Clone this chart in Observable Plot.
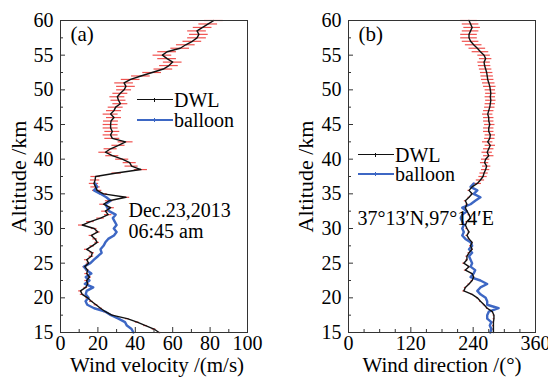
<!DOCTYPE html>
<html><head><meta charset="utf-8">
<script src="https://cdn.jsdelivr.net/npm/d3@7"></script>
<script src="https://cdn.jsdelivr.net/npm/@observablehq/plot@0.6"></script>
<style>
body{margin:0;background:#fff;}
#wrap{position:relative;width:548px;height:377px;overflow:hidden;font-family:"Liberation Serif";}
.panel{position:absolute;top:0;}
.lg{position:absolute;font-size:20px;line-height:18px;color:#000;white-space:nowrap;font-family:"Liberation Serif";}
</style></head>
<body><div id="wrap"></div>
<script>
// Altitude grid (km)
const altDWL = [15,15.5,16,16.5,17,17.5,18,18.5,19,19.5,20,20.5,21,21.5,22,22.5,23,23.5,24,24.5,25,25.5,26,26.5,27,27.5,28,28.5,29,29.5,30,30.5,31,31.5,32,32.5,33,33.5,34,34.5,35,35.5,36,36.5,37,37.5,38,38.5,39,39.5,40,40.5,41,41.5,42,42.5,43,43.5,44,44.5,45,45.5,46,46.5,47,47.5,48,48.5,49,49.5,50,50.5,51,51.5,52,52.5,53,53.5,54,54.5,55,55.5,56,56.5,57,57.5,58,58.5,59,59.5,60];
const altBalloon = [15,15.5,16,16.5,17,17.5,18,18.5,19,19.5,20,20.5,21,21.5,22,22.5,23,23.5,24,24.5,25,25.5,26,26.5,27,27.5,28,28.5,29,29.5,30,30.5,31,31.5,32,32.5,33,33.5,34,34.5,35,35.5,36,36.5];

// (a) wind velocity m/s
const velDWL = [52.7,50,45.5,41,35.7,27.5,24,21.4,19,16.5,14.5,11.6,10.7,13.5,14.5,14,15.5,14,14.5,13,15,14,16.5,17,14,17,19.6,18.5,16.5,20,18,11.6,16,21.4,25.5,24,26.8,23,26,35,23,19.6,18.75,17.9,18.5,18.75,30,43,38,37,33,27.7,24,26.8,31,34.8,27.7,26.8,27.7,26.8,26.8,27,28.6,26.8,28.6,29.5,32,31,30.4,32,34,35,34,37.5,43,49,55,58,60,57,54.5,57,64,67,70.5,73,74,73,76,79,82];
const velErr = [1,1,1,1,1,1,1,1,1,1,1,1,1,1,1,1,1,1,1,1,1.2,1.2,1.2,1.2,1.2,1.2,1.2,1.2,1.2,1.2,1.5,2,2,2,2,2,2,2,2,2,2,2.5,2.5,2.5,2.5,2.5,2.5,3.5,3.5,3.5,3.5,3.5,3.5,3.5,3.5,4,4,4,4,4,4,4,4,4,4,4,4,4,4,4,4,5,5,5,5,5,5,5,5,5,5,5,5,5,5,5,5,5,5,5,5];
const velBalloon = [39,38,35.5,34.5,31,27,24,18,14.3,13.4,15,13.5,14,17.5,13,15.5,13.5,16.5,14,12.5,16,17.9,20,22,21.4,23,24,25.5,28.6,30,28.5,30,29,28,29.5,26,25,24,26.8,24.5,21.4,17.9,19.6,18.5];

// (b) wind direction degrees
const dirDWL = [279,279,279,279,280,280,277,267,261,254,248,238,222,225,232,238,241,238,225,232,222,228,228,232,238,235,238,232,228,232,228,225,228,235,232,228,225,228,225,232,238,232,238,248,254,259,261,264,266,262,264,270,267,270,273,268,272,273,270,270,272,270,270,268,270,272,273,274,273,274,273,272,270,268,267,266,264,262,261,264,261,254,248,241,235,232,232,235,238,235,232];
const dirErr = [1.5,1.5,1.5,1.5,1.5,1.5,1.5,1.5,1.5,1.5,1.5,2,2,2,2,2,2,2,2,2,2,2,2,2,2,2,2,2,2,2,2,2,2,2,2,2,2,2,2,2,2,2,2,8,8,8,8,8,8,8,8,10,10,10,10,10,10,10,10,10,10,10,10,10,10,10,10,10,10,10,10,12,12,12,12,12,12,12,12,12,12,16,16,16,16,16,16,16,16,16,16];
const dirBalloon = [273,275,272,275,267,267,270,289,267,267,264,254,248,254,267,254,235,241,244,235,238,235,232,238,232,238,235,225,219,222,219,222,219,216,219,228,219,235,244,254,241,248,235,241];

const yTicks = [15,20,25,30,35,40,45,50,55,60];
const yMinor = [17.5,22.5,27.5,32.5,37.5,42.5,47.5,52.5,57.5];
const velTicks = [0,20,40,60,80,100];
const velMinor = [10,30,50,70,90];
const dirTicks = [0,120,240,360];
const dirMinor = [30,60,90,150,180,210,270,300,330];

const FONT = "Liberation Serif";
const RED = "#f0524f", BLUE = "#3d67c4";

function panel(o){
  const dwl = o.alt.map((a,i)=>({alt:a, v:o.dwl[i], e:o.err[i]}));
  const bal = o.altB.map((a,i)=>({alt:a, v:o.bal[i]}));
  return Plot.plot({
    width: 274, height: 377,
    marginLeft: o.ml, marginRight: o.mr, marginTop: 20, marginBottom: 45,
    style: {fontFamily: FONT, background: "#fff", overflow: "visible"},
    x: {domain: o.xdom},
    y: {domain: [15,60]},
    marks: [
      Plot.ruleY(dwl, {y:"alt", x1:d=>d.v-d.e, x2:d=>d.v+d.e, stroke:RED, strokeWidth:1.2}),
      Plot.line(bal, {x:"v", y:"alt", stroke:BLUE, strokeWidth:2.4}),
      Plot.line(dwl, {x:"v", y:"alt", stroke:"#111", strokeWidth:1.4}),
      Plot.frame({stroke:"#333", strokeWidth:1}),
      Plot.axisY({ticks:yTicks, tickSize:-5, tickPadding:12, fontSize:20, label:null, stroke:"#333"}),
      Plot.axisY({ticks:yMinor, tickSize:-3, text:null, label:null, stroke:"#333"}),
      Plot.axisX({ticks:o.xt, tickSize:-5, tickPadding:8, fontSize:20, label:null, stroke:"#333"}),
      Plot.axisX({ticks:o.xm, tickSize:-3, text:null, label:null, stroke:"#333"}),
      Plot.text([o.ylab], {frameAnchor:"left", rotate:-90, textAnchor:"middle", lineAnchor:"middle", dx:o.ylx, fontSize:22, fill:"#000"}),
      Plot.text([o.xlab], {frameAnchor:"bottom", textAnchor:"middle", lineAnchor:"middle", dy:33, dx:o.xlx, fontSize:21, fill:"#000"}),
      Plot.text([o.tag], {frameAnchor:"top-left", textAnchor:"start", lineAnchor:"middle", dx:10, dy:14, fontSize:21, fill:"#000"}),
      ...o.notes.map(n => Plot.text([n.t], {frameAnchor:"top-left", textAnchor:"start", lineAnchor:"middle", dx:n.dx, dy:n.dy, fontSize:n.fs, fill:"#000"}))
    ]
  });
}

const wrap = document.getElementById("wrap");
const pa = panel({alt:altDWL, dwl:velDWL, err:velErr, altB:altBalloon, bal:velBalloon,
  ml:60, mr:27, xdom:[0,100], xt:velTicks, xm:velMinor,
  ylab:"Altitude /km", ylx:-42, xlab:"Wind velocity /(m/s)", xlx:3, tag:"(a)",
  notes:[{t:"Dec.23,2013", dx:68, dy:190, fs:20},{t:"06:45 am", dx:68, dy:211, fs:20}]});
const pb = panel({alt:altDWL, dwl:dirDWL, err:dirErr, altB:altBalloon, bal:dirBalloon,
  ml:74, mr:13, xdom:[0,360], xt:dirTicks, xm:dirMinor,
  ylab:"Altitude /km", ylx:-43, xlab:"Wind direction /(°)", xlx:0, tag:"(b)",
  notes:[{t:"37°13′N,97°14′E", dx:9, dy:198, fs:20}]});
const da = document.createElement("div"); da.className="panel"; da.style.left="0px"; da.appendChild(pa);
const db = document.createElement("div"); db.className="panel"; db.style.left="274px"; db.appendChild(pb);
wrap.appendChild(da); wrap.appendChild(db);

// legends
function legend(x, y, gap, items){
  items.forEach((it,i)=>{
    const yy = y + i*gap;
    const l = document.createElement("div");
    l.style.cssText = `position:absolute;left:${x}px;top:${yy-1}px;width:36px;height:0;border-top:${it.w}px solid ${it.c};`;
    wrap.appendChild(l);
    const m = document.createElement("div");
    m.style.cssText = `position:absolute;left:${x+17}px;top:${yy-2.5}px;width:1px;height:4px;background:${it.c};`;
    wrap.appendChild(m);
    const t = document.createElement("div"); t.className="lg";
    t.style.left = (x+37)+"px"; t.style.top = (yy-9)+"px"; t.textContent = it.t;
    wrap.appendChild(t);
  });
}
legend(137, 100, 20, [{t:"DWL", c:"#111", w:1.6},{t:"balloon", c:BLUE, w:2}]);
legend(358, 155, 19, [{t:"DWL", c:"#111", w:1.6},{t:"balloon", c:BLUE, w:2}]);
</script></body></html>
